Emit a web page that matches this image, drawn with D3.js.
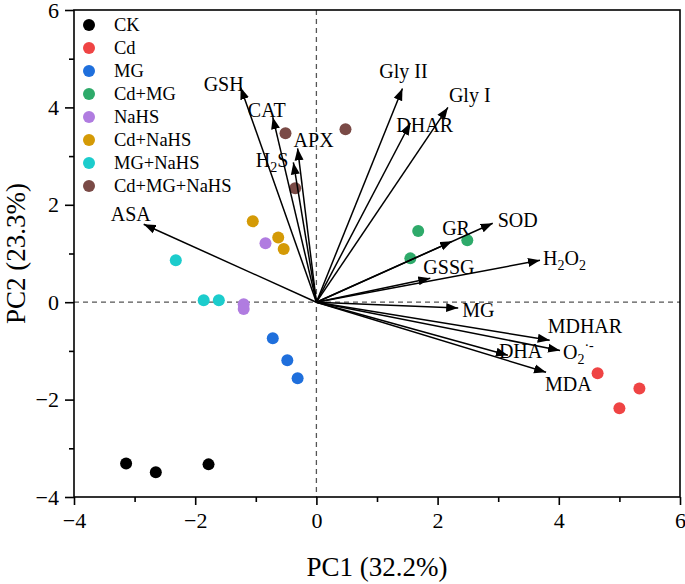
<!DOCTYPE html>
<html>
<head>
<meta charset="utf-8">
<script src="https://cdn.jsdelivr.net/npm/d3@7"></script>
<style>
  body { margin: 0; background: #fff; }
  text { font-family: "Liberation Serif", "Times New Roman", serif; fill: #000; }
</style>
</head>
<body>
<svg width="685" height="584"></svg>
<script>
// treatment groups and their PCA scores
var groups = ["CK", "Cd", "MG", "Cd+MG", "NaHS", "Cd+NaHS", "MG+NaHS", "Cd+MG+NaHS"];
var groupColors = ["#000000", "#ef4444", "#1f6fdc", "#2eaa6a", "#b07ce0", "#d49a06", "#1ccccc", "#7a4a46"];
var pc1Scores = [
    [-3.14, -2.65, -1.78],
    [4.64, 5.33, 5.00],
    [-0.72, -0.48, -0.31],
    [1.68, 2.49, 1.55],
    [-0.84, -1.20, -1.20],
    [-1.05, -0.63, -0.54],
    [-2.32, -1.86, -1.61],
    [-0.51, 0.48, -0.35]
];
var pc2Scores = [
    [-3.31, -3.49, -3.33],
    [-1.46, -1.77, -2.18],
    [-0.74, -1.19, -1.56],
    [1.46, 1.27, 0.90],
    [1.21, -0.04, -0.14],
    [1.66, 1.33, 1.09],
    [0.86, 0.04, 0.04],
    [3.47, 3.55, 2.34]
];

// variable loadings (arrows)
var variables = ["ASA", "GSH", "CAT", "H2S", "APX", "Gly II", "DHAR", "Gly I", "GR", "SOD", "GSSG", "H2O2", "MG", "MDHAR", "O2", "DHA", "MDA"];
var loadPC1 = [-2.85, -1.25, -0.72, -0.38, -0.31, 1.42, 1.55, 2.17, 2.24, 2.91, 1.88, 3.69, 2.34, 3.85, 4.02, 3.16, 3.79];
var loadPC2 = [1.60, 4.41, 3.80, 2.87, 3.16, 4.39, 3.68, 4.00, 1.25, 1.62, 0.49, 0.86, -0.12, -0.78, -0.99, -1.09, -1.44];

var xTicks = [-4, -2, 0, 2, 4, 6];
var yTicks = [-4, -2, 0, 2, 4, 6];
var minorTicks = [-3, -1, 1, 3, 5];

// label placement relative to arrow tip (px): dx, dy, anchor
var labelPos = {
    "ASA": [-33, -3, "start"],
    "GSH": [3, 4, "end"],
    "CAT": [-6, 0, "middle"],
    "H2S": [-5, 5, "end"],
    "APX": [-4, -1, "start"],
    "Gly II": [1, -10, "middle"],
    "DHAR": [-14, 9, "start"],
    "Gly I": [1, -5, "start"],
    "GR": [-10, -6, "start"],
    "SOD": [5, 4, "start"],
    "GSSG": [-7, -4, "start"],
    "H2O2": [3, 5, "start"],
    "MG": [4, 9, "start"],
    "MDHAR": [-2, -7, "start"],
    "O2": [3, 9, "start"],
    "DHA": [-9, 3, "start"],
    "MDA": [-1, 19, "start"]
};

var svg = d3.select("svg");
var plotLeft = 74, plotRight = 680, plotTop = 10, plotBottom = 497;

var x = d3.scaleLinear().domain([-4, 6]).range([plotLeft, plotRight]);
var y = d3.scaleLinear().domain([-4, 6]).range([plotBottom, plotTop]);

// arrowhead
svg.append("defs").append("marker")
    .attr("id", "head")
    .attr("markerUnits", "userSpaceOnUse")
    .attr("viewBox", "0 -5 12 10")
    .attr("refX", 12)
    .attr("refY", 0)
    .attr("markerWidth", 12)
    .attr("markerHeight", 10)
    .attr("orient", "auto")
    .append("path")
    .attr("d", "M0,-4.5L12,0L0,4.5Z")
    .attr("fill", "#000");

// zero lines
svg.append("line")
    .attr("x1", x(0)).attr("x2", x(0))
    .attr("y1", plotTop).attr("y2", plotBottom)
    .attr("stroke", "#555").attr("stroke-width", 1.3)
    .attr("stroke-dasharray", "5,4");
svg.append("line")
    .attr("x1", plotLeft).attr("x2", plotRight)
    .attr("y1", y(0)).attr("y2", y(0))
    .attr("stroke", "#555").attr("stroke-width", 1.3)
    .attr("stroke-dasharray", "5,4");

// score points
groups.forEach(function(g, i) {
    svg.selectAll(null)
        .data(d3.range(pc1Scores[i].length))
        .enter().append("circle")
        .attr("cx", function(j) { return x(pc1Scores[i][j]); })
        .attr("cy", function(j) { return y(pc2Scores[i][j]); })
        .attr("r", 6)
        .attr("fill", groupColors[i]);
});

// loading arrows
svg.selectAll(".arrow")
    .data(variables)
    .enter().append("line")
    .attr("class", "arrow")
    .attr("x1", x(0)).attr("y1", y(0))
    .attr("x2", function(d, i) { return x(loadPC1[i]); })
    .attr("y2", function(d, i) { return y(loadPC2[i]); })
    .attr("stroke", "#000")
    .attr("stroke-width", 1.5)
    .attr("marker-end", "url(#head)");

var labels = svg.selectAll(".vlab")
    .data(variables)
    .enter().append("text")
    .attr("class", "vlab")
    .attr("x", function(d, i) { return x(loadPC1[i]) + labelPos[d][0]; })
    .attr("y", function(d, i) { return y(loadPC2[i]) + labelPos[d][1]; })
    .attr("text-anchor", function(d) { return labelPos[d][2]; })
    .style("font-size", "20px");

labels.each(function(d) {
    var t = d3.select(this);
    if (d === "H2S") {
        t.append("tspan").text("H");
        t.append("tspan").text("2").attr("dy", 5).style("font-size", "14px");
        t.append("tspan").text("S").attr("dy", -5);
    } else if (d === "H2O2") {
        t.append("tspan").text("H");
        t.append("tspan").text("2").attr("dy", 5).style("font-size", "14px");
        t.append("tspan").text("O").attr("dy", -5);
        t.append("tspan").text("2").attr("dy", 5).style("font-size", "14px");
    } else if (d === "O2") {
        t.append("tspan").text("O");
        t.append("tspan").text("2").attr("dy", 5).style("font-size", "14px");
        t.append("tspan").text("·-").attr("dy", -14).style("font-size", "14px");
    } else {
        t.text(d);
    }
});

// frame
svg.append("rect")
    .attr("x", plotLeft).attr("y", plotTop)
    .attr("width", plotRight - plotLeft).attr("height", plotBottom - plotTop)
    .attr("fill", "none").attr("stroke", "#000").attr("stroke-width", 1.6);

// axes
svg.append("g")
    .attr("transform", "translate(0," + plotBottom + ")")
    .call(d3.axisBottom(x).tickValues(xTicks).tickSize(8).tickPadding(7));
svg.append("g")
    .attr("transform", "translate(0," + plotBottom + ")")
    .call(d3.axisBottom(x).tickValues(minorTicks).tickSize(5).tickFormat(""));
svg.append("g")
    .attr("transform", "translate(" + plotLeft + ",0)")
    .call(d3.axisLeft(y).tickValues(yTicks).tickSize(9).tickPadding(6));
svg.append("g")
    .attr("transform", "translate(" + plotLeft + ",0)")
    .call(d3.axisLeft(y).tickValues(minorTicks).tickSize(5).tickFormat(""));

svg.selectAll(".domain").remove();
svg.selectAll(".tick line").attr("stroke", "#000").attr("stroke-width", 1.6);
svg.selectAll(".tick text")
    .style("font-family", "Liberation Serif, serif")
    .style("font-size", "22px")
    .attr("fill", "#000");

// axis titles
svg.append("text")
    .attr("x", (plotLeft + plotRight) / 2)
    .attr("y", 576)
    .attr("text-anchor", "middle")
    .style("font-size", "27px")
    .text("PC1 (32.2%)");
svg.append("text")
    .attr("transform", "translate(25," + (plotTop + plotBottom) / 2 + ") rotate(-90)")
    .attr("text-anchor", "middle")
    .style("font-size", "27px")
    .text("PC2 (23.3%)");

// legend
var legend = svg.selectAll(".leg")
    .data(groups)
    .enter().append("g")
    .attr("class", "leg")
    .attr("transform", function(d, i) { return "translate(89," + (25 + i * 23) + ")"; });
legend.append("circle")
    .attr("r", 6)
    .attr("fill", function(d, i) { return groupColors[i]; });
legend.append("text")
    .attr("x", 25)
    .attr("y", 6)
    .style("font-size", "18.5px")
    .text(function(d) { return d; });
</script>
</body>
</html>
